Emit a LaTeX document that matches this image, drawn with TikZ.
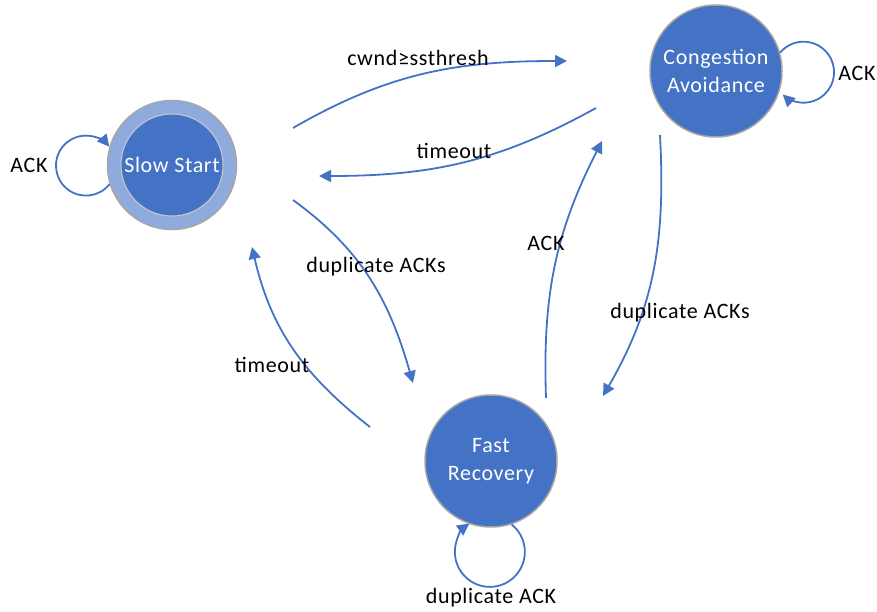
\documentclass[tikz,border=0pt]{standalone}
\usepackage{fontspec}
\setmainfont{Carlito}[LetterSpace=3]
\usetikzlibrary{arrows.meta}
\definecolor{stateblue}{HTML}{4472C4}
\definecolor{ringblue}{HTML}{8FAADC}
\definecolor{rimgray}{HTML}{A6A6A6}

\begin{document}
\begin{tikzpicture}[
		x=1pt, y=1pt,
		nodefont/.style={font=\fontsize{22}{28}\selectfont},
		state/.style={circle, draw=rimgray, line width=1.5pt, fill=stateblue, text=white,
			align=center, nodefont, minimum size=132pt, inner sep=0pt},
		trans/.style={draw=stateblue, line width=1.8pt, -{Triangle[length=12pt, width=12pt]}}
	]
	\useasboundingbox (0,0) rectangle (877,-612);

	% 三个状态
	\node[state, fill=ringblue, minimum size=129pt] (ss) at (172,-165) {};
	\node[state, draw=rimgray!60, line width=1pt, minimum size=102pt] (ssin) at (ss) {Slow Start};
	\node[state] (ca) at (716,-71) {Congestion\\Avoidance};
	\node[state] (fr) at (491,-461) {Fast\\Recovery};

	% 悬空箭头的端点
	\coordinate (ss2ca-a) at (293,-128);
	\coordinate (ss2ca-b) at (567,-61);
	\coordinate (ca2ss-a) at (596,-108);
	\coordinate (ca2ss-b) at (319,-176);
	\coordinate (ss2fr-a) at (293,-200);
	\coordinate (ss2fr-b) at (413,-383);
	\coordinate (fr2ss-a) at (370,-427);
	\coordinate (fr2ss-b) at (252,-247);
	\coordinate (fr2ca-a) at (546,-398);
	\coordinate (fr2ca-b) at (602,-141);
	\coordinate (ca2fr-a) at (660,-135);
	\coordinate (ca2fr-b) at (603,-396);

	% 状态之间的转移
	\draw[trans] (ss2ca-a) to[out=30, in=180] (ss2ca-b);
	\draw[trans] (ca2ss-a) to[out=209, in=0] (ca2ss-b);
	\draw[trans] (ss2fr-a) to[out=-36, in=106] (ss2fr-b);
	\draw[trans] (fr2ss-a) to[out=142, in=-77] (fr2ss-b);
	\draw[trans] (fr2ca-a) to[out=92, in=-117] (fr2ca-b);
	\draw[trans] (ca2fr-a) to[out=-87, in=60] (ca2fr-b);

	% 自环
	\draw[trans] (ss.197) arc[start angle=-38, end angle=-321, radius=30];
	\draw[trans] (ca.16) arc[start angle=140, end angle=-133, radius=30.5];
	\draw[trans] (fr.-72) arc[start angle=51.5, end angle=-234, radius=35];

	% 转移条件
	\node[nodefont] (l-cwnd) at (418,-58) {cwnd≥ssthresh};
	\node[nodefont] (l-to1) at (454,-151) {timeout};
	\node[nodefont] (l-dup1) at (376,-267) {duplicate ACKs};
	\node[nodefont] (l-to2) at (272,-365) {timeout};
	\node[nodefont] (l-ack1) at (546,-243) {ACK};
	\node[nodefont] (l-dup2) at (680,-313) {duplicate ACKs};
	\node[nodefont] (l-ack0) at (29,-165) {ACK};
	\node[nodefont] (l-ack2) at (857,-73) {ACK};
	\node[nodefont] (l-dup3) at (491,-598) {duplicate ACK};
\end{tikzpicture}
\end{document}
